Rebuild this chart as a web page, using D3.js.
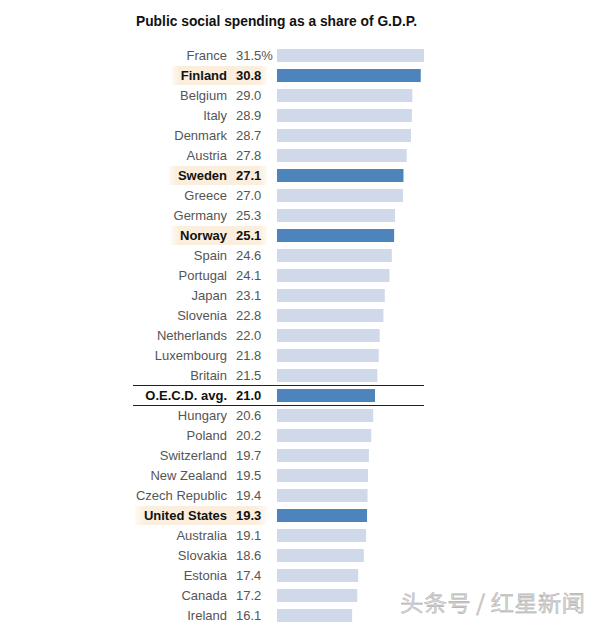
<!DOCTYPE html>
<html><head><meta charset="utf-8">
<script src="https://cdn.jsdelivr.net/npm/d3@7"></script>
<style>body{margin:0;background:#fff;} svg{display:block;}</style>
</head><body>
<svg id="c" width="600" height="623"></svg>
<script>
const countries = ["France","Finland","Belgium","Italy","Denmark","Austria","Sweden","Greece","Germany","Norway","Spain","Portugal","Japan","Slovenia","Netherlands","Luxembourg","Britain","O.E.C.D. avg.","Hungary","Poland","Switzerland","New Zealand","Czech Republic","United States","Australia","Slovakia","Estonia","Canada","Ireland"];
const values = [31.5,30.8,29.0,28.9,28.7,27.8,27.1,27.0,25.3,25.1,24.6,24.1,23.1,22.8,22.0,21.8,21.5,21.0,20.6,20.2,19.7,19.5,19.4,19.3,19.1,18.6,17.4,17.2,16.1];
const valueLabels = ["31.5%","30.8","29.0","28.9","28.7","27.8","27.1","27.0","25.3","25.1","24.6","24.1","23.1","22.8","22.0","21.8","21.5","21.0","20.6","20.2","19.7","19.5","19.4","19.3","19.1","18.6","17.4","17.2","16.1"];
const highlighted = ["Finland","Sweden","Norway","United States"];
const average = "O.E.C.D. avg.";
const title = "Public social spending as a share of G.D.P.";
const watermark = "头条号 / 红星新闻";

const svg = d3.select("#c");
const font = "'Liberation Sans', Arial, sans-serif";
const x = d3.scaleLinear().domain([0, 31.5]).range([277, 424]);
const y = d3.scaleBand().domain(countries).range([45.5, 625.5]).paddingInner(0.35).paddingOuter(0.175);
const rowC = d => y(d) + y.bandwidth()/2;

const defs = svg.append("defs");
const grad = defs.append("linearGradient").attr("id","hl");
grad.append("stop").attr("offset","0").attr("stop-color","#fbeedd").attr("stop-opacity",0.3);
grad.append("stop").attr("offset","0.08").attr("stop-color","#fbeedd").attr("stop-opacity",1);
grad.append("stop").attr("offset","0.92").attr("stop-color","#fbeedd").attr("stop-opacity",1);
grad.append("stop").attr("offset","1").attr("stop-color","#fbeedd").attr("stop-opacity",0.3);

svg.append("text").attr("x",136).attr("y",26).attr("font-family",font).attr("font-weight","bold")
  .attr("font-size",14.5).attr("fill","#111").attr("textLength",281).attr("lengthAdjust","spacingAndGlyphs").text(title);

const g = svg.append("g");
const rows = g.selectAll("g.row").data(countries).join("g").attr("class","row");

rows.filter(d => highlighted.includes(d)).append("rect").attr("class","bg");

const isBold = d => highlighted.includes(d) || d === average;

rows.append("text").attr("x",227).attr("y",d=>rowC(d)+4.5).attr("text-anchor","end")
  .attr("font-family",font).attr("font-size",13)
  .attr("font-weight",d=>isBold(d)?"bold":"normal")
  .attr("fill",d=>isBold(d)?"#111":"#555").text(d=>d);

rows.append("text").attr("x",236).attr("y",d=>rowC(d)+4.5)
  .attr("font-family",font).attr("font-size",13)
  .attr("font-weight",d=>isBold(d)?"bold":"normal")
  .attr("fill",d=>isBold(d)?"#111":"#555").text((d,i)=>valueLabels[i]);

rows.select("rect.bg").each(function(d){
  const t = d3.select(this.parentNode).select("text").node().getComputedTextLength();
  d3.select(this).attr("x",227-t-9).attr("width",t+9+40).attr("y",rowC(d)-9.5).attr("height",19)
    .attr("fill","url(#hl)");
});

rows.append("rect").attr("x",x(0)).attr("y",d=>y(d)).attr("height",y.bandwidth())
  .attr("width",(d,i)=>x(values[i])-x(0))
  .attr("fill",d=>isBold(d)?"#4c84bb":"#cfd9e9");

[-10,10].forEach(o=>{
  svg.append("line").attr("x1",133).attr("x2",424).attr("y1",rowC(average)+o).attr("y2",rowC(average)+o)
    .attr("stroke","#222").attr("stroke-width",1.2);
});

svg.append("text").attr("x",400).attr("y",611).attr("font-family","'Noto Sans CJK SC', sans-serif")
  .attr("font-size",22).attr("fill","#d4d4d4").attr("stroke","#999").attr("stroke-width",0.3)
  .attr("textLength",185).attr("lengthAdjust","spacingAndGlyphs").text(watermark);
</script>
</body></html>
